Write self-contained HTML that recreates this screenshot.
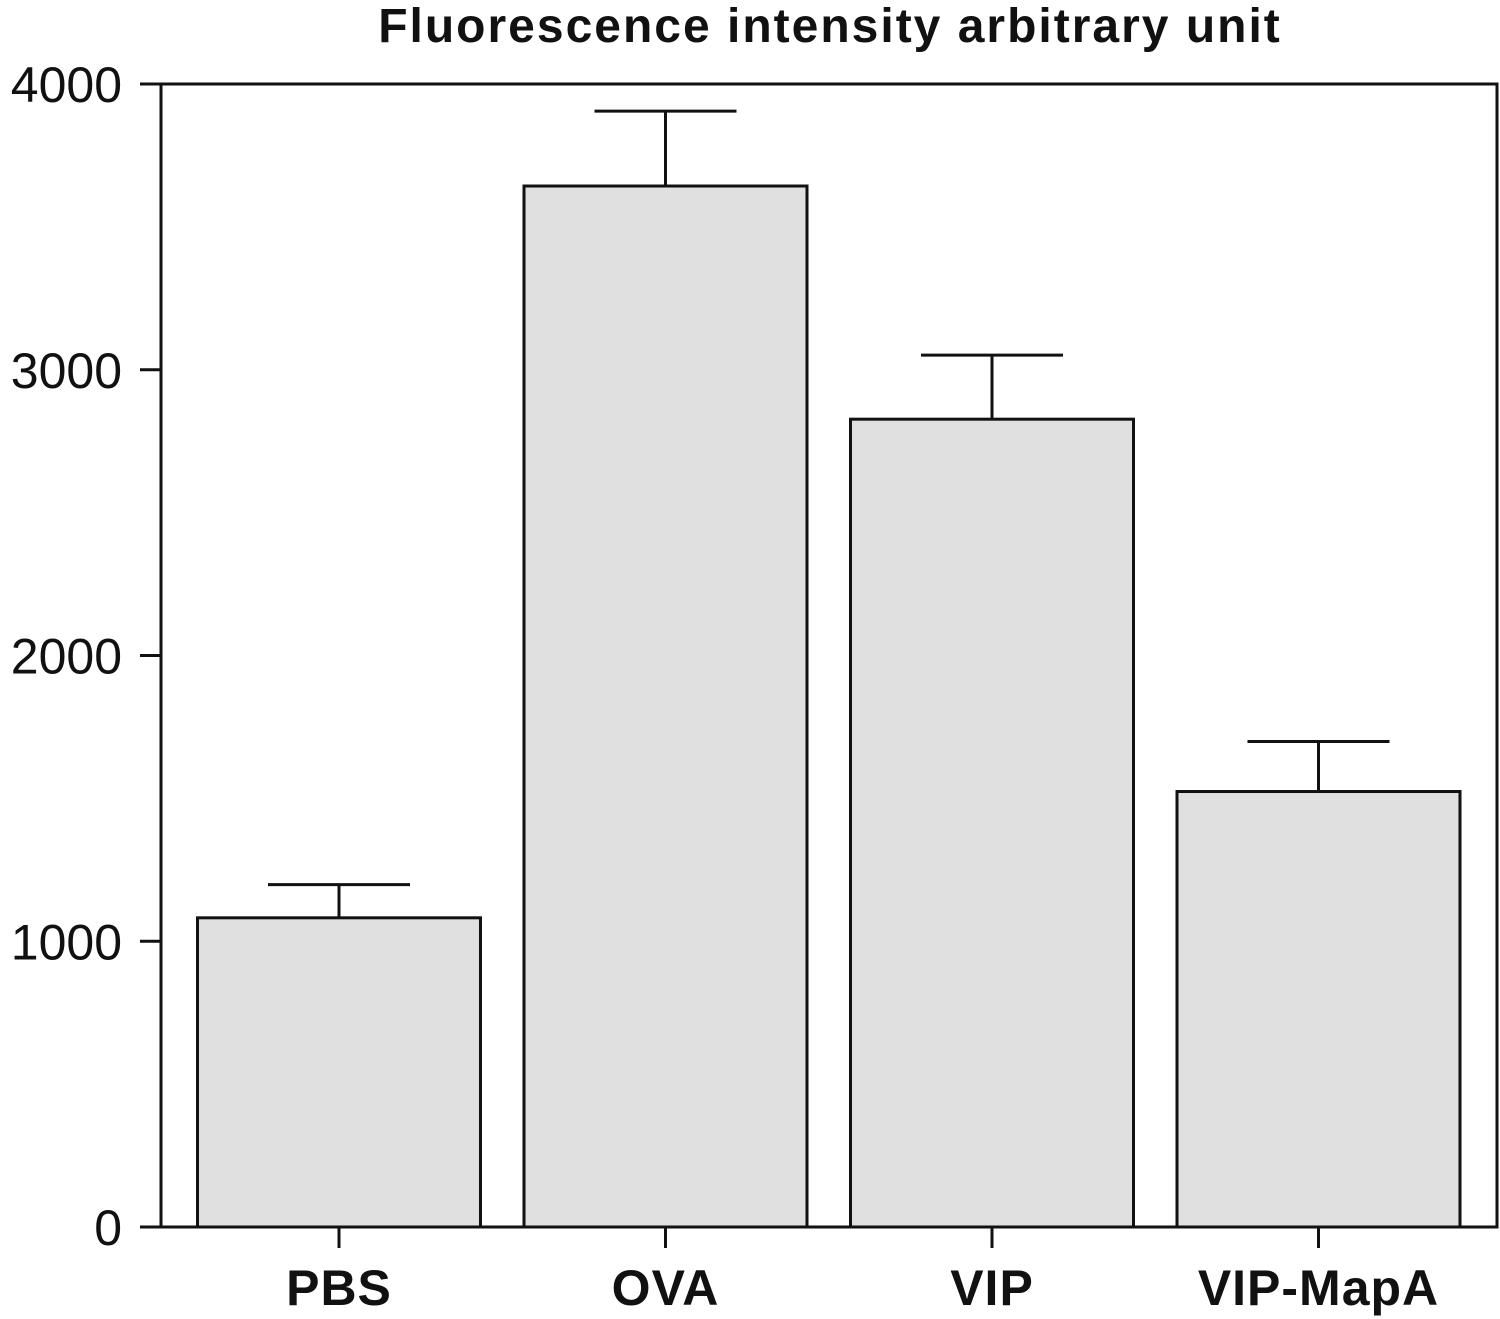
<!DOCTYPE html>
<html><head><meta charset="utf-8"><style>
html,body{margin:0;padding:0;background:#fff;}
svg{display:block;font-family:"Liberation Sans","DejaVu Sans",sans-serif;}
</style></head><body>
<svg id="chart" width="1500" height="1319" viewBox="0 0 1500 1319">
<text x="830" y="42" text-anchor="middle" font-size="48" font-weight="bold" letter-spacing="2" fill="#111">Fluorescence intensity arbitrary unit</text>
<g id="plot"></g>
</svg>
<script>
const categories = ["PBS","OVA","VIP","VIP-MapA"];
const means = [1082, 3643, 2827, 1524];
const errors = [116, 262, 224, 175];
const yTicks = [0, 1000, 2000, 3000, 4000];

const NS = "http://www.w3.org/2000/svg";
const plot = document.getElementById('plot');
const yBase = 1227, yTop = 84, yMax = 4000;
const frameL = 161, frameR = 1497;
function y(v){ return yBase - v/yMax*(yBase-yTop); }
function xc(i){ return 339 + i*326.5; }
const barW = 283;
function mk(tag, attrs){ const e=document.createElementNS(NS,tag); for(const k in attrs) e.setAttribute(k,attrs[k]); plot.appendChild(e); return e; }

categories.forEach((c,i)=>{
  const cx = xc(i);
  const eb = mk('line',{x1:cx,x2:cx,y1:y(means[i]),y2:y(means[i]+errors[i]),stroke:'#111','stroke-width':3});
  
  
  const cap = mk('line',{x1:cx-71,x2:cx+71,y1:y(means[i]+errors[i]),y2:y(means[i]+errors[i]),stroke:'#111','stroke-width':3});
  
  
  const r = mk('rect',{x:cx-barW/2,y:y(means[i]),width:barW,height:yBase-y(means[i]),fill:'#e0e0e0',stroke:'#111','stroke-width':3});
  
  
  const t = mk('line',{x1:cx,x2:cx,y1:yBase,y2:yBase+21,stroke:'#111','stroke-width':3});
  
  
  const lab = mk('text',{x:cx,y:1305,'text-anchor':'middle','font-size':50,'font-weight':'bold','letter-spacing':1,fill:'#111'});
  lab.textContent = c;
  
  
});
const frame = mk('rect',{x:frameL,y:yTop,width:frameR-frameL,height:yBase-yTop,fill:'none',stroke:'#111','stroke-width':3});


yTicks.forEach(v=>{
  const t = mk('line',{x1:140,x2:frameL,y1:y(v),y2:y(v),stroke:'#111','stroke-width':3});
  
  
  const l = mk('text',{x:122,y:y(v)+18,'text-anchor':'end','font-size':50,fill:'#111'});
  l.textContent = v;
  
  
});
</script>
</body></html>
